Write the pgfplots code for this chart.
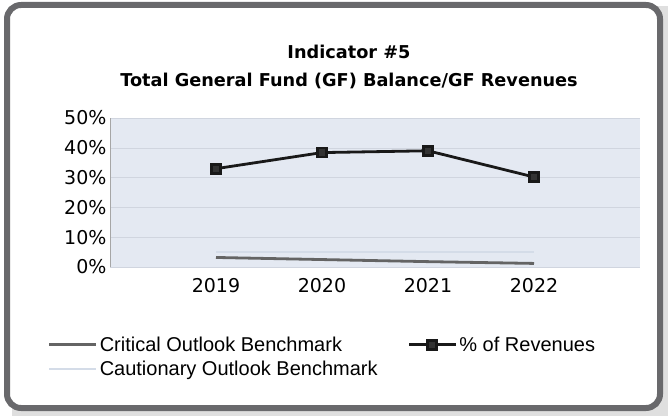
\documentclass[border=0pt]{standalone}
\usepackage{pgfplots}
\pgfplotsset{compat=1.18}
\usepackage{fontspec}
\setmainfont{Liberation Sans}
\newfontfamily\verd{DejaVu Sans}
\definecolor{plotbg}{RGB}{228,233,242}
\definecolor{framec}{RGB}{105,105,108}
\definecolor{gridc}{RGB}{208,213,223}
\definecolor{critc}{RGB}{100,100,100}
\definecolor{cautc}{RGB}{212,220,232}
\begin{document}
\begin{tikzpicture}
\path[use as bounding box] (0pt,0pt) rectangle (668pt,418pt);
\fill[gray!25] (12pt,2pt) rectangle (668pt,412pt);
\draw[framec, line width=6pt, fill=white, rounded corners=14pt] (7pt,10pt) rectangle (660pt,413pt);
\node[font=\verd\bfseries\fontsize{17.7}{28}\selectfont, align=center] at (349pt,351pt) {Indicator \#5\\Total General Fund (GF) Balance/GF Revenues};
\begin{axis}[
  at={(110pt,151pt)}, anchor=south west,
  scale only axis, width=530pt, height=149pt,
  xmin=-1, xmax=4, ymin=0, ymax=50,
  axis background/.style={fill=plotbg},
  axis line style={draw=none},
  ytick={0,10,20,30,40,50},
  yticklabel={\pgfmathprintnumber{\tick}\%},
  xtick={0,1,2,3}, xticklabels={2019,2020,2021,2022},
  tick style={draw=none},
  ymajorgrids, grid style={gridc, line width=0.6pt},
  /pgf/number format/assume math mode=true,
  ticklabel style={font=\verd\fontsize{19}{22}\selectfont},
  yticklabel style={xshift=0pt},
  xticklabel style={yshift=-8pt},
  legend columns=2,
  legend style={at={(-0.123,-0.44)}, anchor=north west, draw=none, fill=none,
    font=\fontsize{20}{23}\selectfont, row sep=4pt,
    /tikz/every even column/.append style={column sep=28pt}},
  legend cell align=left,
  legend image code/.code={\draw[mark repeat=2,mark phase=2,#1] plot coordinates {(0cm,0cm) (0.8cm,0cm) (1.65cm,0cm)};},
]
\draw[gray!70, line width=0.6pt] (axis cs:-1,0) -- (axis cs:-1,50);
\addplot[cautc, line width=2pt, forget plot] coordinates {(0,5) (1,5) (2,5) (3,5)};
\addplot[critc, line width=2.8pt] coordinates {(0,3.2) (1,2.5) (2,1.8) (3,1.2)};
\addlegendentry{Critical Outlook Benchmark}
\addplot[black!90, line width=2.8pt, mark=square*, mark size=4.5pt, mark options={fill=black!80}] coordinates {(0,33) (1,38.4) (2,39) (3,30.2)};
\addlegendentry{\% of Revenues}
\addlegendimage{cautc, line width=2pt}
\addlegendentry{Cautionary Outlook Benchmark}
\end{axis}
\end{tikzpicture}
\end{document}
